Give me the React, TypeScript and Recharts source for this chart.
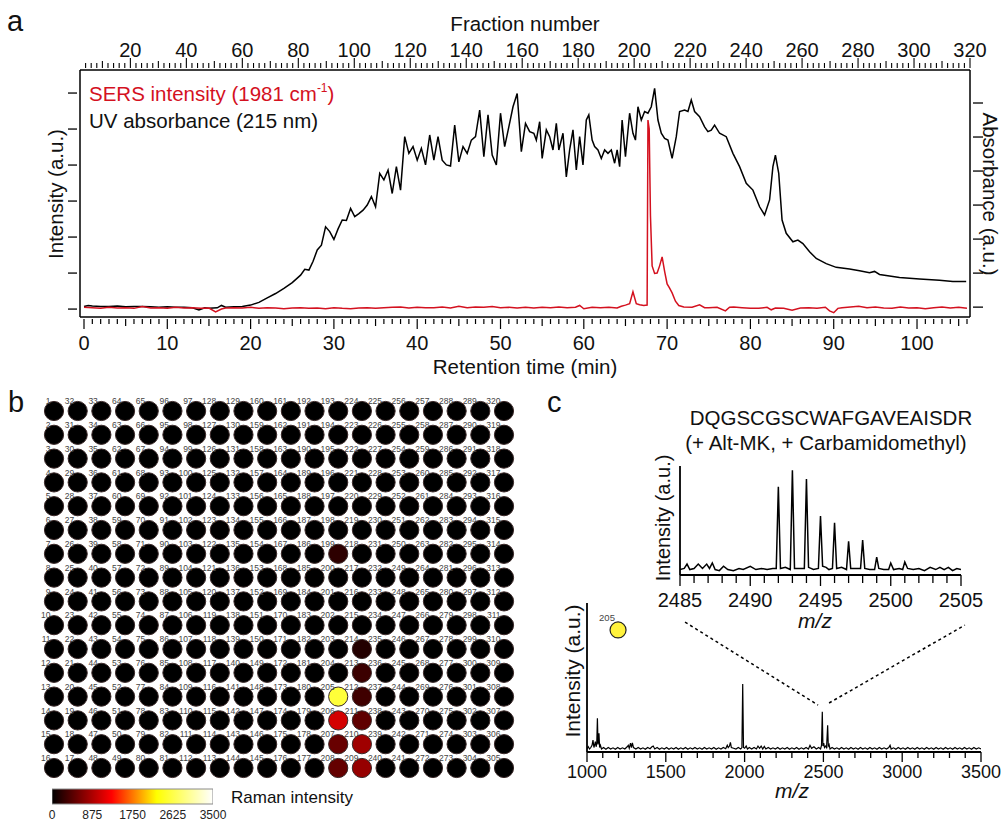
import React from 'react';
import { LineChart, Line, XAxis, YAxis, ScatterChart, Scatter, BarChart, Bar, ReferenceLine, ReferenceDot } from 'recharts';

const FONT = '"Liberation Sans", Arial, Helvetica, sans-serif';
const SERS_RED = '#d4111f';

// ---------------- Panel a: retention time traces ----------------
const uvTime = [
  0, 0.5, 1, 2, 3, 4, 5, 6, 7, 8,
  9, 10, 11, 12, 13, 13.8, 14.5, 15, 16, 16.5,
  17, 18, 19, 20, 21, 22, 23, 24, 25, 26,
  26.5, 27, 27.5, 28, 28.5, 29, 29.5, 30, 30.5, 31,
  31.5, 32, 32.5, 33, 33.5, 34, 34.5, 35, 35.5, 36,
  36.5, 37, 37.5, 38, 38.5, 39, 39.5, 40, 40.5, 41,
  41.5, 42, 42.5, 43, 43.5, 44, 44.5, 45, 45.5, 46,
  46.5, 47, 47.5, 48, 48.5, 49, 49.5, 50, 50.5, 51,
  51.5, 52, 52.5, 53, 53.5, 54, 54.3, 54.7, 55, 55.5,
  55.9, 56.3, 56.7, 57, 57.5, 57.9, 58.3, 58.7, 59.1, 59.5,
  59.9, 60.3, 60.6, 61, 61.3, 61.7, 62.1, 62.5, 62.9, 63.3,
  63.7, 64, 64.3, 64.6, 65, 65.5, 65.9, 66.2, 66.5, 66.9,
  67.3, 67.7, 68.1, 68.5, 68.9, 69.3, 69.7, 70.1, 70.6, 71.1,
  71.5, 72.1, 72.5, 72.9, 73.3, 73.9, 74.5, 74.9, 75.3, 75.7,
  76.3, 77.1, 77.9, 78.7, 79.5, 80.3, 81.1, 81.7, 82.3, 82.7,
  83.0, 83.4, 83.8, 84.3, 85.1, 85.7, 86.3, 87.1, 87.9, 89.1,
  90.3, 91.9, 93.1, 94.3, 94.9, 95.5, 97.9, 100.3, 102.7, 104.3,
  105.9,
];
const uvAbsorbance = [
  0.02, 0.05, 0.03, 0.02, 0.02, 0.03, 0.01, 0.02, 0.02, 0.01,
  0.0, 0.01, 0.0, 0.0, -0.02, -0.08, -0.02, -0.03, -0.02, 0.05,
  0.0, 0.01, 0.02, 0.06, 0.14, 0.27, 0.4, 0.55, 0.72, 0.94,
  1.11, 1.09, 1.35, 1.68, 1.82, 2.36, 2.22, 1.99, 2.3, 2.56,
  2.55, 2.9, 2.66, 2.75, 2.85, 3.0, 3.25, 2.95, 3.93, 3.74,
  4.03, 3.34, 4.13, 3.44, 5.01, 4.52, 4.72, 4.32, 4.67, 4.18,
  5.06, 4.32, 5.01, 4.32, 4.18, 4.15, 5.35, 4.27, 4.72, 4.52,
  4.91, 5.01, 5.79, 4.42, 5.65, 4.47, 4.18, 5.7, 4.72, 5.3,
  5.89, 6.28, 4.57, 5.4, 5.16, 5.11, 4.91, 5.45, 4.37, 5.21,
  5.01, 4.62, 5.4, 4.62, 5.11, 3.83, 4.62, 5.21, 4.03, 5.01,
  4.18, 5.5, 5.65, 4.91, 4.72, 4.62, 4.37, 4.62, 4.52, 4.62,
  4.23, 4.62, 4.13, 5.5, 4.42, 5.7, 5.11, 4.91, 5.89, 5.5,
  5.75, 5.7, 5.89, 6.43, 5.5, 5.11, 4.96, 4.91, 4.37, 5.01,
  5.75, 5.79, 5.75, 6.09, 5.75, 5.6, 5.3, 5.16, 5.2, 5.35,
  5.11, 5.01, 4.52, 4.13, 3.64, 3.44, 2.95, 2.71, 3.15, 4.13,
  4.47, 3.93, 2.56, 2.17, 1.92, 1.97, 1.87, 1.63, 1.43, 1.28,
  1.17, 1.12, 1.07, 1.01, 1.05, 0.96, 0.87, 0.83, 0.79, 0.75,
  0.75,
];
const sersTime = [
  0, 1, 2, 3, 4, 5, 6, 7, 8, 9,
  10, 11, 12, 13, 14, 15, 15.8, 16.5, 17, 18,
  19, 20, 21, 22, 23, 24, 25, 26, 27, 28,
  29, 30, 31, 32, 33, 34, 35, 36, 37, 38,
  39, 40, 41, 42, 43, 44, 45, 46, 47, 48,
  49, 50, 51, 52, 53, 54, 55, 56, 57, 58,
  59, 59.5, 60, 61, 62, 63, 64, 64.5, 65, 65.5,
  65.9, 66.3, 66.7, 67.2, 67.6, 67.7, 67.85, 68.0, 68.2, 68.5,
  68.8, 69.1, 69.4, 69.7, 70.0, 70.3, 70.6, 71.0, 71.4, 72,
  73, 73.9, 74.5, 75, 76, 77, 77.5, 78, 79, 80,
  81, 82, 82.5, 83, 84, 85, 86, 87, 88, 89,
  89.5, 90, 90.5, 91, 92, 93, 94, 95, 96, 97,
  98, 99, 100, 101, 102, 103, 104, 105, 106,
];
const sersIntensity = [
  0.05, 0.04, 0.02, 0.05, 0.03, 0.04, 0.02, 0.07, 0.03, 0.04,
  0.02, 0.05, 0.03, 0.04, 0.02, 0.03, -0.08, 0.0, 0.03, 0.04,
  0.03, 0.05, 0.02, 0.04, 0.03, 0.01, 0.03, 0.04, 0.02, 0.03,
  0.01, 0.04, 0.02, 0.01, 0.03, 0.04, 0.02, 0.04, 0.05, 0.06,
  0.03, 0.05, 0.04, 0.04, 0.06, 0.03, 0.08, 0.04, 0.06, 0.05,
  0.07, 0.04, 0.05, 0.03, 0.05, 0.03, 0.05, 0.04, 0.06, 0.04,
  0.05, 0.1, 0.01, 0.05, 0.04, 0.05, 0.03, 0.08, 0.11, 0.15,
  0.48, 0.15, 0.12, 0.1, 0.11, 5.25, 5.0, 2.6, 1.2, 0.99,
  1.0, 1.2, 1.45, 1.05, 0.7, 0.58, 0.45, 0.22, 0.1, 0.06,
  0.05, 0.12, 0.04, 0.04, 0.05, -0.05, 0.05, 0.06, 0.04, 0.02,
  0.02, 0.05, -0.02, 0.03, 0.02, -0.03, 0.03, 0.04, 0.02, 0.05,
  -0.05, -0.1, 0.02, 0.04, 0.06, 0.08, 0.04, 0.06, 0.03, 0.02,
  0.06, 0.03, 0.04, 0.01, 0.04, 0.06, 0.03, 0.05, 0.02,
];
const retentionTicks = Array.from({ length: 107 }, (_, i) => i);
const fractionTicks = Array.from({ length: 159 }, (_, i) => 4 + i * 2);
const fractionRange = [2, 320];
const leftAxisTicks = [0, 1, 2, 3, 4, 5, 6];
const rightAxisTicks = [0, 1, 2, 3, 4, 5, 6];

// ---------------- Panel b: fraction plate ----------------
const plateFractions = Array.from({ length: 320 }, (_, i) => i + 1);
const hitFractions = [199, 205, 206, 207, 208, 209, 210, 211, 212, 213, 214];
const hitIntensity = [230, 2550, 1070, 530, 510, 760, 810, 480, 320, 300, 180];
const ramanTicks = [0, 875, 1750, 2625, 3500];
const ramanMax = 3500;

// ---------------- Panel c: MALDI spectra ----------------
const msMz = [
  1000, 1008, 1016, 1024, 1032, 1038, 1044, 1049, 1053, 1058,
  1062, 1066, 1070, 1076, 1080, 1085, 1092, 1105, 1120, 1135,
  1150, 1165, 1180, 1195, 1210, 1225, 1240, 1255, 1262, 1268,
  1276, 1282, 1288, 1295, 1310, 1325, 1340, 1355, 1370, 1385,
  1400, 1412, 1420, 1430, 1445, 1460, 1475, 1490, 1505, 1520,
  1535, 1550, 1565, 1580, 1595, 1610, 1625, 1640, 1655, 1670,
  1685, 1700, 1715, 1730, 1745, 1760, 1775, 1790, 1805, 1820,
  1835, 1850, 1865, 1880, 1890, 1896, 1904, 1910, 1916, 1930,
  1945, 1960, 1975, 1983, 1988, 1993, 2000, 2010, 2018, 2030,
  2045, 2060, 2075, 2085, 2095, 2105, 2115, 2125, 2135, 2150,
  2165, 2180, 2195, 2210, 2225, 2240, 2255, 2270, 2285, 2300,
  2315, 2330, 2345, 2360, 2375, 2390, 2405, 2415, 2425, 2440,
  2455, 2470, 2482, 2488, 2493, 2497, 2502, 2507, 2514, 2520,
  2527, 2531, 2536, 2542, 2555, 2570, 2585, 2600, 2615, 2630,
  2645, 2660, 2675, 2690, 2705, 2720, 2735, 2750, 2765, 2780,
  2795, 2810, 2825, 2840, 2855, 2870, 2885, 2900, 2915, 2923,
  2930, 2945, 2960, 2975, 2990, 3005, 3020, 3035, 3050, 3065,
  3080, 3095, 3110, 3125, 3140, 3155, 3170, 3185, 3200, 3215,
  3230, 3245, 3260, 3275, 3290, 3305, 3320, 3335, 3350, 3365,
  3380, 3395, 3410, 3425, 3440, 3455, 3470, 3485, 3500,
];
const msIntensity = [
  0.02, 0.035, 0.02, 0.03, 0.045, 0.08, 0.03, 0.05, 0.07, 0.035,
  0.06, 0.226, 0.05, 0.125, 0.03, 0.045, 0.02, 0.03, 0.018, 0.03,
  0.02, 0.028, 0.018, 0.03, 0.02, 0.028, 0.02, 0.035, 0.045, 0.025,
  0.06, 0.03, 0.062, 0.03, 0.02, 0.03, 0.02, 0.028, 0.018, 0.03,
  0.022, 0.035, 0.04, 0.02, 0.03, 0.018, 0.028, 0.02, 0.03, 0.018,
  0.028, 0.02, 0.03, 0.018, 0.028, 0.02, 0.03, 0.018, 0.028, 0.02,
  0.03, 0.02, 0.028, 0.018, 0.03, 0.02, 0.028, 0.02, 0.03, 0.018,
  0.028, 0.02, 0.03, 0.022, 0.045, 0.03, 0.04, 0.065, 0.03, 0.025,
  0.02, 0.03, 0.02, 0.03, 0.456, 0.03, 0.025, 0.04, 0.02, 0.03,
  0.02, 0.03, 0.02, 0.04, 0.025, 0.04, 0.02, 0.038, 0.02, 0.03,
  0.02, 0.028, 0.02, 0.03, 0.018, 0.028, 0.02, 0.03, 0.018, 0.028,
  0.02, 0.03, 0.018, 0.028, 0.02, 0.03, 0.02, 0.045, 0.025, 0.035,
  0.02, 0.03, 0.02, 0.045, 0.27, 0.04, 0.06, 0.03, 0.04, 0.03,
  0.18, 0.04, 0.05, 0.02, 0.03, 0.02, 0.028, 0.018, 0.03, 0.02,
  0.028, 0.018, 0.03, 0.02, 0.028, 0.018, 0.03, 0.02, 0.028, 0.018,
  0.03, 0.02, 0.028, 0.018, 0.03, 0.02, 0.028, 0.02, 0.03, 0.045,
  0.02, 0.028, 0.018, 0.03, 0.02, 0.028, 0.018, 0.03, 0.02, 0.028,
  0.018, 0.03, 0.02, 0.028, 0.018, 0.03, 0.02, 0.028, 0.018, 0.03,
  0.02, 0.028, 0.018, 0.03, 0.02, 0.028, 0.018, 0.03, 0.02, 0.028,
  0.018, 0.03, 0.02, 0.028, 0.018, 0.03, 0.02, 0.028, 0.02,
];
const mzTicks = Array.from({ length: 26 }, (_, i) => 1000 + i * 100);

const insetMz = [
  2485.0, 2485.3, 2485.5, 2485.7, 2486.0, 2486.3, 2486.6, 2486.9, 2487.1, 2487.3,
  2487.5, 2487.8, 2488.1, 2488.4, 2488.8, 2489.2, 2489.5, 2490.0, 2490.4, 2490.8,
  2491.2, 2491.6, 2491.85, 2492.0, 2492.15, 2492.5, 2492.85, 2493.0, 2493.15, 2493.5,
  2493.85, 2494.0, 2494.15, 2494.5, 2494.85, 2495.0, 2495.15, 2495.4, 2495.6, 2495.85,
  2496.0, 2496.15, 2496.5, 2496.85, 2497.0, 2497.15, 2497.5, 2497.85, 2498.0, 2498.15,
  2498.5, 2498.85, 2499.0, 2499.15, 2499.5, 2499.85, 2500.0, 2500.2, 2500.6, 2500.85,
  2501.0, 2501.2, 2501.6, 2502.0, 2502.4, 2502.8, 2503.2, 2503.5, 2503.8, 2504.1,
  2504.4, 2504.7, 2505.0,
];
const insetIntensity = [
  0.05, 0.06, 0.1, 0.05, 0.06, 0.1, 0.06, 0.1, 0.06, 0.11,
  0.05, 0.04, 0.08, 0.05, 0.04, 0.06, 0.05, 0.08, 0.05, 0.06,
  0.05, 0.06, 0.06, 0.81, 0.06, 0.07, 0.05, 0.96, 0.06, 0.06,
  0.06, 0.88, 0.07, 0.05, 0.06, 0.54, 0.08, 0.07, 0.05, 0.06,
  0.48, 0.06, 0.07, 0.05, 0.31, 0.06, 0.06, 0.06, 0.32, 0.06,
  0.05, 0.05, 0.165, 0.06, 0.05, 0.05, 0.11, 0.05, 0.06, 0.05,
  0.12, 0.06, 0.05, 0.06, 0.04, 0.07, 0.05, 0.07, 0.05, 0.07,
  0.04, 0.06, 0.05,
];
const insetTicks = Array.from({ length: 21 }, (_, i) => 2485 + i);

// ---------------- derived tables ----------------
const uvData = uvTime.map((t, i) => ({ t, v: uvAbsorbance[i] }));
const sersData = sersTime.map((t, i) => ({ t, v: sersIntensity[i] }));
const fractionAxisData = fractionRange.map((f) => ({ f }));
const msData = msMz.map((m, i) => ({ m, v: msIntensity[i] }));
const insetData = insetMz.map((m, i) => ({ m, v: insetIntensity[i] }));

const HOT_STOPS: [number, number[]][] = [
  [0, [0, 0, 0]],
  [0.37, [255, 0, 0]],
  [0.65, [255, 255, 0]],
  [1, [255, 255, 255]],
];
function hotColor(value: number) {
  const t = Math.max(0, Math.min(1, value / ramanMax));
  for (let i = 1; i < HOT_STOPS.length; i++) {
    const [t0, c0] = HOT_STOPS[i - 1];
    const [t1, c1] = HOT_STOPS[i];
    if (t <= t1) {
      const f = (t - t0) / (t1 - t0);
      const c = c0.map((v, k) => Math.round(v + (c1[k] - v) * f));
      return `rgb(${c.join(',')})`;
    }
  }
  return '#fff';
}
const plateData = plateFractions.map((n) => {
  const col = Math.floor((n - 1) / 16);
  const k = (n - 1) % 16;
  const row = col % 2 === 0 ? k : 15 - k;
  const idx = hitFractions.indexOf(n);
  const intensity = idx >= 0 ? hitIntensity[idx] : 0;
  return { n, col, row, intensity, fill: hotColor(intensity) };
});
const colorbarData = [{ name: 'Raman intensity', value: ramanMax }];

// ---------------- custom ticks ----------------
const TimeTick = (p: any) => {
  const { x, y, payload } = p;
  const v = payload.value;
  const len = v % 10 === 0 ? 10 : v % 5 === 0 ? 7 : 5;
  return (
    <g>
      <line x1={x} x2={x} y1={y + 2} y2={y + 2 + len} stroke="#000" strokeWidth={1.2} />
      {v % 10 === 0 ? (
        <text x={x} y={y + 33} textAnchor="middle" fontSize={20} fontFamily={FONT} fill="#111">{v}</text>
      ) : null}
    </g>
  );
};
const FractionTick = (p: any) => {
  const { x, y, payload } = p;
  const v = payload.value;
  const len = v % 20 === 0 ? 10 : v % 10 === 0 ? 7 : 5;
  return (
    <g>
      <line x1={x} x2={x} y1={y - 2} y2={y - 2 - len} stroke="#000" strokeWidth={1.1} />
      {v % 20 === 0 ? (
        <text x={x} y={y - 13} textAnchor="middle" fontSize={20} fontFamily={FONT} fill="#111">{v}</text>
      ) : null}
    </g>
  );
};
const LeftTick = (p: any) => (
  <line x1={p.x - 9} x2={p.x} y1={p.y} y2={p.y} stroke="#000" strokeWidth={1.3} />
);
const RightTick = (p: any) => (
  <line x1={p.x} x2={p.x + 10} y1={p.y} y2={p.y} stroke="#000" strokeWidth={1.3} />
);
const MzTick = (p: any) => {
  const { x, y, payload } = p;
  const v = payload.value;
  const major = v % 500 === 0;
  return (
    <g>
      <line x1={x} x2={x} y1={y} y2={y + (major ? 10 : 6)} stroke="#000" strokeWidth={1.3} />
      {major ? (
        <text x={x} y={y + 26} textAnchor="middle" fontSize={18} fontFamily={FONT} fill="#111">{v}</text>
      ) : null}
    </g>
  );
};
const InsetTick = (p: any) => {
  const { x, y, payload } = p;
  const v = payload.value;
  const major = v % 5 === 0;
  return (
    <g>
      <line x1={x} x2={x} y1={y} y2={y + (major ? 11 : 8)} stroke="#000" strokeWidth={1.3} />
      {major ? (
        <text x={x} y={y + 32} textAnchor="middle" fontSize={20} fontFamily={FONT} fill="#111">{v}</text>
      ) : null}
    </g>
  );
};

const Well = (p: any) => {
  const { cx, cy, payload } = p;
  return (
    <g>
      <circle cx={cx} cy={cy} r={9.6} fill={payload.fill} stroke="#3a2828" strokeWidth={1} />
      <text x={cx - 3.5} y={cy - 6.8} textAnchor="end" fontSize={8.5} fontFamily={FONT} fill="#444">{payload.n}</text>
    </g>
  );
};

const title = (x: number, y: number, s: string, size = 21, extra: any = {}) => () => (
  <text x={x} y={y} textAnchor="middle" fontSize={size} fontFamily={FONT} fill="#111" {...extra}>{s}</text>
);
const vtitle = (x: number, y: number, s: string, angle: number, size = 21) => () => (
  <text transform={`translate(${x},${y}) rotate(${angle})`} textAnchor="middle" dominantBaseline="central" fontSize={size} fontFamily={FONT} fill="#111">{s}</text>
);

const axisStroke = { stroke: '#000', strokeWidth: 1.5 };

export default function App() {
  return (
    <div style={{ position: 'absolute', left: 0, top: 0, width: 1003, height: 824, background: '#fff', fontFamily: FONT }}>
      {/* Panel a */}
      <div style={{ position: 'absolute', left: 0, top: 0 }}>
        <LineChart width={1003} height={380} margin={{ top: 5, right: 3, bottom: 3, left: 50 }}>
          <XAxis xAxisId="t" dataKey="t" type="number" domain={[-0.48, 106.36]} allowDataOverflow ticks={retentionTicks} interval={0}
            height={60} tickSize={0} tickMargin={0} tickLine={false} axisLine={axisStroke} tick={TimeTick}
            label={title(525, 374, 'Retention time (min)', 20.5)} />
          <XAxis xAxisId="f" dataKey="f" orientation="top" type="number" domain={[2, 320]} allowDataOverflow ticks={fractionTicks} interval={0}
            height={65} tickSize={0} tickMargin={0} tickLine={false} axisLine={axisStroke} tick={FractionTick}
            label={title(525, 31, 'Fraction number', 20.5)} />
          <YAxis yAxisId="sers" type="number" domain={[-0.22, 6.64]} allowDataOverflow ticks={leftAxisTicks} interval={0}
            width={30} tickSize={0} tickMargin={3} tickLine={false} axisLine={axisStroke} tick={LeftTick}
            label={vtitle(55, 194, 'Intensity (a.u.)', -90, 20.5)} />
          <YAxis yAxisId="uv" orientation="right" type="number" domain={[-0.29, 6.97]} allowDataOverflow ticks={rightAxisTicks} interval={0}
            width={30} tickSize={0} tickMargin={3} tickLine={false} axisLine={axisStroke} tick={RightTick}
            label={vtitle(990, 194, 'Absorbance (a.u.)', 90, 20.5)} />
          {/* helper series (no stroke) that registers the fraction-number axis */}
          <Line xAxisId="f" yAxisId="uv" data={fractionAxisData} dataKey="none" stroke="none" dot={false} activeDot={false} legendType="none" isAnimationActive={false} />
          <Line xAxisId="t" yAxisId="uv" data={uvData} dataKey="v" type="linear" stroke="#000" strokeWidth={1.5} dot={false} isAnimationActive={false} />
          <Line xAxisId="t" yAxisId="sers" data={sersData} dataKey="v" type="linear" stroke={SERS_RED} strokeWidth={1.5} dot={false} isAnimationActive={false} />
        </LineChart>
      </div>

      {/* Panel b: plate */}
      <div style={{ position: 'absolute', left: 0, top: 380 }}>
        <ScatterChart width={540} height={420} margin={{ top: 31, right: 36, bottom: 32, left: 54 }}>
          <XAxis type="number" dataKey="col" domain={[0, 19]} hide />
          <YAxis type="number" dataKey="row" domain={[0, 15]} reversed hide />
          <Scatter data={plateData} shape={Well} isAnimationActive={false} />
        </ScatterChart>
      </div>

      {/* Panel b: colour bar */}
      <div style={{ position: 'absolute', left: 40, top: 776 }}>
        <BarChart width={190} height={48} layout="vertical" data={colorbarData} margin={{ top: 13, right: 17, bottom: 4, left: 12 }} barCategoryGap={0}>
          <defs>
            <linearGradient id="hotGrad" x1="0" y1="0" x2="1" y2="0">
              {HOT_STOPS.map(([o, c]) => (
                <stop key={o} offset={o} stopColor={`rgb(${c.join(',')})`} />
              ))}
            </linearGradient>
          </defs>
          <XAxis type="number" domain={[0, ramanMax]} allowDataOverflow ticks={ramanTicks} interval={0} height={16}
            axisLine={false} tickLine={false} tickSize={0} tickMargin={6} tick={{ fontSize: 12, fill: '#222', fontFamily: FONT }} />
          <YAxis type="category" dataKey="name" hide />
          <Bar dataKey="value" fill="url(#hotGrad)" stroke="#8a8a8a" strokeWidth={1} isAnimationActive={false} />
        </BarChart>
      </div>

      {/* Panel c: full spectrum */}
      <div style={{ position: 'absolute', left: 540, top: 590 }}>
        <LineChart width={463} height={234} margin={{ top: 13, right: 22, bottom: 12, left: 7 }}>
          <XAxis dataKey="m" type="number" domain={[1000, 3500]} allowDataOverflow ticks={mzTicks} interval={0} height={60}
            tickSize={0} tickMargin={0} tickLine={false} axisLine={{ stroke: '#000', strokeWidth: 1.8 }} tick={MzTick}
            label={title(252, 208, 'm/z', 21, { fontStyle: 'italic' })} />
          <YAxis type="number" domain={[0, 1]} allowDataOverflow width={40} tick={false} tickLine={false}
            axisLine={{ stroke: '#000', strokeWidth: 1.8 }} label={vtitle(32, 81, 'Intensity (a.u.)', -90)} />
          <ReferenceLine segment={[{ x: 1622, y: 0.872 }, { x: 2466, y: 0.315 }]} stroke="#000" strokeWidth={1.5} strokeDasharray="3 3" ifOverflow="visible" />
          <ReferenceLine segment={[{ x: 2536, y: 0.329 }, { x: 3398, y: 0.852 }]} stroke="#000" strokeWidth={1.5} strokeDasharray="3 3" ifOverflow="visible" />
          <ReferenceDot x={1197} y={0.819} r={8} fill="#fff23c" stroke="#222" strokeWidth={1.2} ifOverflow="visible" />
          <Line data={msData} dataKey="v" type="linear" stroke="#000" strokeWidth={1.2} dot={false} isAnimationActive={false} />
        </LineChart>
      </div>

      {/* Panel c: inset */}
      <div style={{ position: 'absolute', left: 620, top: 440 }}>
        <LineChart width={383} height={200} margin={{ top: 26, right: 42, bottom: 5, left: 10 }}>
          <XAxis dataKey="m" type="number" domain={[2485, 2505]} allowDataOverflow ticks={insetTicks} interval={0} height={60}
            tickSize={0} tickMargin={0} tickLine={false} axisLine={{ stroke: '#000', strokeWidth: 1.8 }} tick={InsetTick}
            label={title(195, 188, 'm/z', 21, { fontStyle: 'italic' })} />
          <YAxis type="number" domain={[0, 1]} allowDataOverflow width={50} tick={false} tickLine={false}
            axisLine={{ stroke: '#000', strokeWidth: 1.8 }} label={vtitle(43, 78, 'Intensity (a.u.)', -90, 20)} />
          <Line data={insetData} dataKey="v" type="linear" stroke="#000" strokeWidth={1.5} dot={false} isAnimationActive={false} />
        </LineChart>
      </div>

      {/* text annotations */}
      <svg width={1003} height={824} style={{ position: 'absolute', left: 0, top: 0, pointerEvents: 'none' }}>
        <g fontFamily={FONT} fill="#111">
          <text x={7} y={31} fontSize={29}>a</text>
          <text x={8} y={412} fontSize={29}>b</text>
          <text x={547} y={412} fontSize={29}>c</text>
          <text x={89} y={101} fontSize={20.5} fill={SERS_RED}>
            SERS intensity (1981 cm<tspan fontSize={12} dy={-9}>-1</tspan><tspan dy={9}>)</tspan>
          </text>
          <text x={89} y={128} fontSize={20.5}>UV absorbance (215 nm)</text>
          <text x={831} y={425} fontSize={20.5} textAnchor="middle">DQGSCGSCWAFGAVEAISDR</text>
          <text x={826} y={450} fontSize={20.5} textAnchor="middle">(+ Alt-MK, + Carbamidomethyl)</text>
          <text x={231} y={803} fontSize={17}>Raman intensity</text>
          <text x={607} y={621} fontSize={9.5} textAnchor="middle" fill="#444">205</text>
        </g>
      </svg>
    </div>
  );
}
